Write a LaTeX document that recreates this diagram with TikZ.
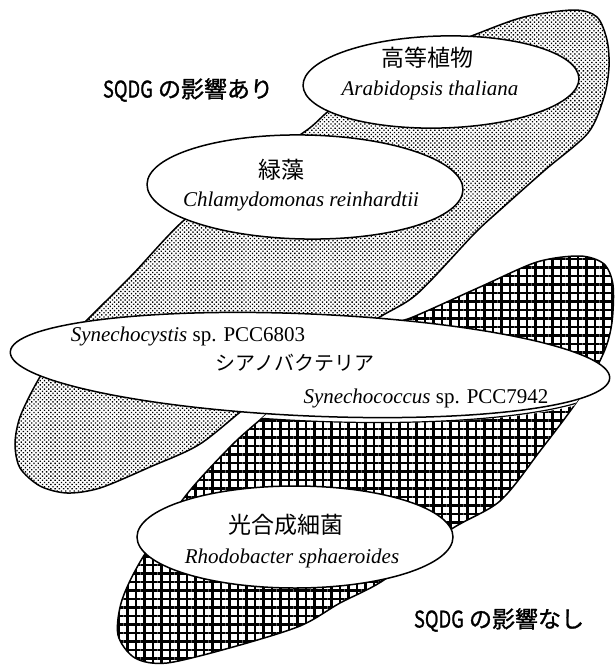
\documentclass[tikz,border=0pt]{standalone}
\usepackage{fontspec}
\usepackage{graphicx}
\setmainfont{Liberation Serif}
\newfontfamily\jp{Noto Sans CJK JP}
\newfontfamily\jpb[FakeBold=1.2]{Noto Sans CJK JP}
\usetikzlibrary{patterns.meta}
\begin{document}
\begin{tikzpicture}[x=1pt,y=-1pt,
  outline/.style={line width=1.5pt},
  dotfill/.style={outline, pattern={Dots[distance=3pt, radius=0.95pt, angle=45]}},
  gridfill/.style={outline, pattern={Hatch[angle=0, distance=8.5pt, line width=2.1pt]}},
  bubble/.style={fill=white, line width=1.5pt},
  cyanotilt/.style={rotate around={-2.5:(310,365)}},
  jplabel/.style={font=\jp\fontsize{23}{26}\selectfont, inner sep=0pt},
  kanalabel/.style={font=\jp\fontsize{20}{24}\selectfont, inner sep=0pt},
  species/.style={font=\fontsize{21}{24}\selectfont, inner sep=0pt},
  sqdg/.style={font=\jpb\fontsize{23}{26}\selectfont, inner sep=0pt}
]
\useasboundingbox (0,0) rectangle (614,667);

% dotted band (SQDG affected)
\draw[dotfill] plot[smooth cycle] coordinates {
  (474,35) (524,17) (574,10) (597,17) (607,40) (609,67) (604,97) (588,133)
  (545,170) (500,210) (474,234) (417,294) (375,320) (310,365) (253,402) (200,444)
  (150,467) (100,488) (67,493) (40,486) (20,468) (15,444) (20,417) (37,382)
  (58,350) (90,317) (133,274) (182,222) (245,172) (307,130) (334,107) (400,65)};

% cross-hatched band (SQDG not affected)
\def\gridpath{plot[smooth cycle] coordinates {
  (413,317) (480,287) (537,262) (580,256) (604,264) (613,285) (612,322) (604,352)
  (580,397) (540,451) (500,501) (450,530) (384,580) (340,603) (300,626) (233,647)
  (167,663) (135,658) (118,635) (122,600) (143,557) (187,494) (233,444) (270,411)
  (330,355) (385,326)}}
\draw[gridfill] \gridpath;

% small white gap under the cyanobacteria ellipse
\begin{scope}
  \clip \gridpath;
  \clip (0,368) rectangle (614,667);
  \draw[white, line width=10pt, cyanotilt] (310,365) ellipse [x radius=300pt, y radius=51pt];
  \draw[line width=1.2pt, cyanotilt] (310,365) ellipse [x radius=304pt, y radius=56pt];
\end{scope}

% ellipses
\draw[bubble, rotate around={1.5:(441,82)}] (441,82) ellipse [x radius=138pt, y radius=46pt];
\draw[bubble, rotate around={-1:(305,187)}] (305,187) ellipse [x radius=158pt, y radius=52pt];
\draw[bubble, cyanotilt] (310,365) ellipse [x radius=300pt, y radius=51pt];
\draw[bubble] (295,537) ellipse [x radius=158pt, y radius=51pt];

% texts
\node[jplabel] (plantjp) at (427,58) {高等植物};
\node[species] (plantsp) at (430,90) {\itshape Arabidopsis thaliana};
\node[jplabel] (algajp) at (281,170) {緑藻};
\node[species] (algasp) at (301,201) {\itshape Chlamydomonas reinhardtii};
\node[species] (cyano1) at (188,336) {\itshape Synechocystis\upshape{} sp. PCC6803};
\node[kanalabel] (cyanojp) at (295,363) {シアノバクテリア};
\node[species] (cyano2) at (426,398) {\itshape Synechococcus\upshape{} sp. PCC7942};
\node[jplabel] (bactjp) at (286,525) {光合成細菌};
\node[species] (bactsp) at (292,558) {\itshape Rhodobacter sphaeroides};
\node[sqdg] (affected) at (188,90) {\scalebox{0.8}[1]{SQDG} の影響あり};
\node[sqdg] (unaffected) at (499,620) {\scalebox{0.8}[1]{SQDG} の影響なし};
\end{tikzpicture}
\end{document}
